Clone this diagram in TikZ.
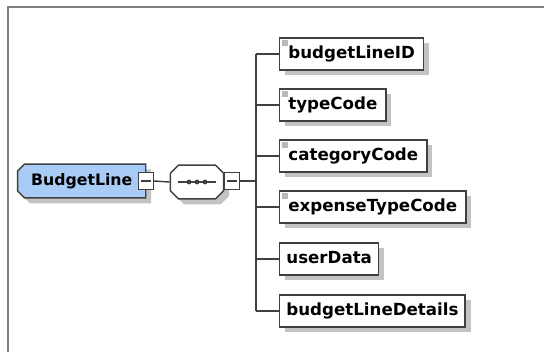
\documentclass[tikz,border=0pt]{standalone}
\usepackage{fontspec}
\setmainfont{DejaVu Sans}
\usetikzlibrary{shapes.misc,shadows,positioning}
\definecolor{elemblue}{RGB}{168,204,245}
\definecolor{edgegray}{RGB}{64,64,64}
\definecolor{framegray}{RGB}{128,128,128}
\definecolor{shadowgray}{RGB}{195,195,195}

\begin{document}
\begin{tikzpicture}[x=0.75pt,y=-0.75pt,
font=\fontsize{12.5}{14}\selectfont\bfseries,
elemnode/.style={rectangle, draw=edgegray, fill=white, line width=1.1pt, minimum height=24pt, inner xsep=5pt, text height=9pt, text depth=2.5pt, anchor=west, drop shadow={shadow xshift=4pt, shadow yshift=-4pt, fill=shadowgray, opacity=1}},
typednode/.style={elemnode, inner xsep=6.5pt, path picture={\fill[gray!55] ([shift={(1.5pt,-1.5pt)}]path picture bounding box.north west) rectangle ++(5pt,-4.5pt);}},
rootnode/.style={elemnode, chamfered rectangle, chamfered rectangle corners={north west,south west}, chamfered rectangle xsep=1.5pt, minimum width=96pt, fill=elemblue, font=\fontsize{11.8}{14}\selectfont\bfseries},
seqnode/.style={elemnode, anchor=center, chamfered rectangle, chamfered rectangle xsep=2.5pt, minimum width=40pt},
minusbox/.style={rectangle, draw=edgegray, fill=white, line width=1.1pt, minimum width=11pt, minimum height=13pt, inner sep=0pt, path picture={\draw[edgegray, line width=1.3pt] ([xshift=2pt]path picture bounding box.west) -- ([xshift=-2pt]path picture bounding box.east);}},
link/.style={draw=edgegray, line width=1.1pt}
]
\useasboundingbox (0,0) rectangle (544,351);
%Frame
\draw[framegray, line width=1.5pt] (8,360) |- (560,7);

%Nodes
\node[rootnode] at (17,181) (root) {BudgetLine\hspace{4pt}};
\node[minusbox] at (146,181) (root-m) {};
\node[seqnode] at (197,182) (seq) {};
\node[minusbox] at (232,181) (seq-m) {};
\coordinate (spine) at (256,181);

\node[typednode] at (279,54)  (nID)   {budgetLineID};
\node[typednode] at (279,105) (nType) {typeCode};
\node[typednode] at (279,156) (nCat)  {categoryCode};
\node[typednode] at (279,207) (nExp)  {expenseTypeCode};
\node[elemnode]  at (279,259) (nUser) {userData};
\node[elemnode]  at (279,311) (nDet)  {budgetLineDetails};

%Sequence mark
\draw[edgegray, line width=1.1pt] ([xshift=-14pt]seq.center) -- ([xshift=14pt]seq.center);
\foreach \dx in {-6,0,6}
  \fill[edgegray] ([xshift=\dx pt]seq.center) circle (1.8pt);

%Lines
\draw[link] (root-m.east) -- (seq.west);
\draw[link] (seq-m.east) -- (spine);
\draw[link] (spine |- nID.west) -- (spine |- nDet.west);
\foreach \n in {nID,nType,nCat,nExp,nUser,nDet}
  \draw[link] (spine |- \n.west) -- (\n.west);
\end{tikzpicture}
\end{document}
